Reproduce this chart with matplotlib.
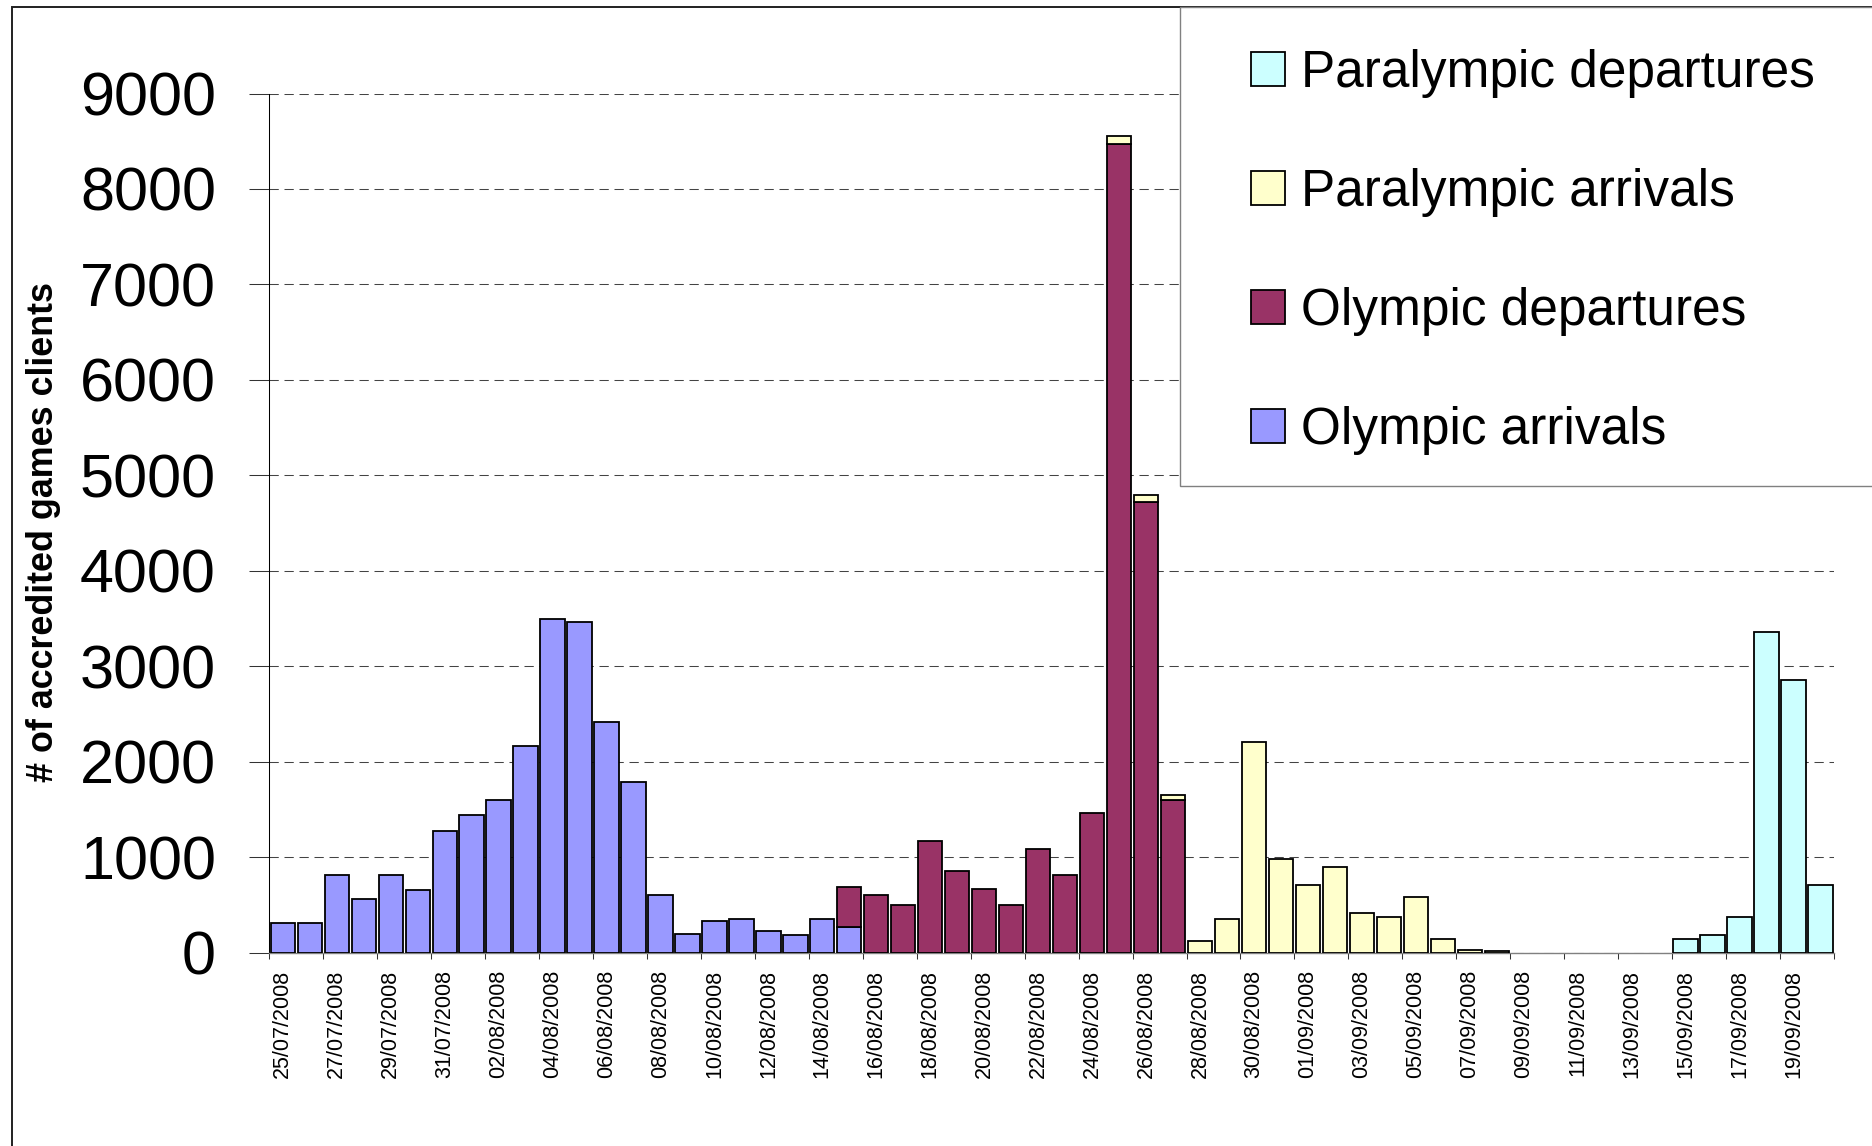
import numpy as np
import pandas as pd
import matplotlib
matplotlib.use("Agg")
import matplotlib.pyplot as plt
from matplotlib.patches import Rectangle, Patch

plt.rcParams['font.family'] = ['Liberation Sans', 'DejaVu Sans']

# one bar per day, 25/07/2008 .. 20/09/2008
days = pd.date_range("2008-07-25", "2008-09-20", freq="D")
day_labels = list(days.strftime("%d/%m/%Y"))

olympic_arrivals = [310, 310, 810, 560, 810, 660, 1270, 1440, 1600, 2170,
                    3500, 3460, 2420, 1790, 600, 200, 330, 350, 230, 185,
                    350, 270] + [0] * 36
olympic_departures = [0] * 21 + [420, 600, 500, 1170, 855, 665, 500, 1085,
                                 815, 1460, 8470, 4720, 1600] + [0] * 24
paralympic_arrivals = [0] * 31 + [90, 70, 50, 125, 350, 2210, 980, 710, 900,
                                  415, 375, 585, 145, 25, 20] + [0] * 12
paralympic_departures = [0] * 52 + [145, 185, 375, 3360, 2860, 710]

series = [
    ("Olympic arrivals", olympic_arrivals, "#9999FF"),
    ("Olympic departures", olympic_departures, "#993366"),
    ("Paralympic arrivals", paralympic_arrivals, "#FFFFCC"),
    ("Paralympic departures", paralympic_departures, "#CCFFFF"),
]

W, H = 1872, 1146
fig = plt.figure(figsize=(W / 100, H / 100), dpi=100)
ax = fig.add_axes([269.3 / W, 1 - 952.7 / H, (1834 - 269.3) / W, (952.7 - 93.5) / H])

x = np.arange(len(days))
bottom = np.zeros(len(days))
for name, vals, col in series:
    vals = np.array(vals, dtype=float)
    m = vals > 0
    ax.bar(x[m], vals[m], bottom=bottom[m], width=0.9, color=col,
           edgecolor="black", linewidth=1.3, zorder=3)
    bottom += vals

ax.set_xlim(-0.5, len(days) - 0.5)
ax.set_ylim(0, 9000)

# y axis
ax.set_yticks(np.arange(0, 9001, 1000))
ax.tick_params(axis="y", labelsize=44, length=14.4, width=0.75, pad=24,
               color="#333333")
ax.yaxis.grid(True, color="#444444", linewidth=0.75, linestyle=(0, (8.9, 5.5)))
ax.set_axisbelow(True)

# x axis: tick marks between every second day, labels on the days themselves
ax.set_xticks(np.arange(-0.5, len(days), 2))
ax.set_xticklabels([])
ax.set_xticks(x[::2], day_labels[::2], minor=True)
ax.tick_params(axis="x", which="major", length=4.3, width=0.75, color="#333333")
ax.tick_params(axis="x", which="minor", length=0, pad=12.2, labelsize=15.5,
               labelrotation=90)

for s in ("top", "right"):
    ax.spines[s].set_visible(False)
ax.spines["left"].set_color("black")
ax.spines["left"].set_linewidth(0.75)
ax.spines["bottom"].set_color("#808080")
ax.spines["bottom"].set_linewidth(1.0)

fig.text(44 / W, 1 - 531.5 / H, "# of accredited games clients", rotation=90,
         ha="center", va="center", fontsize=25.8, fontweight="bold")

# chart area frame and legend box
fig.add_artist(Rectangle((11.7 / W, -0.5), 2, 0.5 + 1 - 6.7 / H,
                         transform=fig.transFigure, fill=False,
                         edgecolor="#202020", linewidth=1.4))
fig.add_artist(Rectangle((1180.4 / W, 1 - 486 / H), 1, 486 / H - 6.7 / H,
                         transform=fig.transFigure, facecolor="white",
                         edgecolor="#808080", linewidth=1.0, zorder=4))

handles = [Patch(facecolor=c, edgecolor="black", linewidth=1.3)
           for _, _, c in series[::-1]]
labels = [n for n, _, _ in series[::-1]]
fig.legend(handles, labels, loc="upper left",
           bbox_to_anchor=(1251 / W, 1 - 49 / H), frameon=False, fontsize=37,
           handlelength=0.66, handleheight=0.64, handletextpad=0.31,
           labelspacing=1.36, borderpad=0, borderaxespad=0)

fig.savefig("out.png", dpi=100)
